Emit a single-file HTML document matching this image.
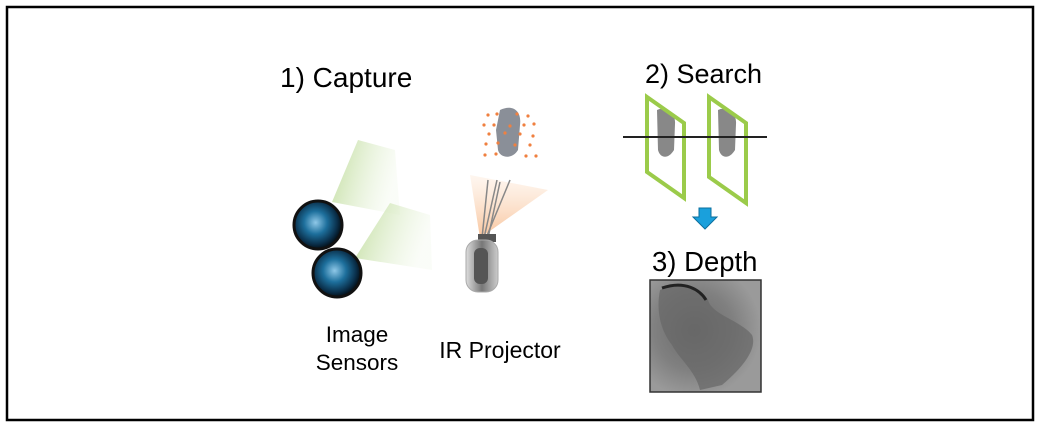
<!DOCTYPE html>
<html><head><meta charset="utf-8"><style>
html,body{margin:0;padding:0;background:#fff;}
svg{display:block;}
text{font-family:"Liberation Sans",sans-serif;fill:#000;}
</style></head><body>
<svg width="1041" height="427" viewBox="0 0 1041 427" xmlns="http://www.w3.org/2000/svg">
<defs>
<linearGradient id="gc" x1="0" y1="0" x2="1" y2="0.3">
<stop offset="0" stop-color="#b8d890" stop-opacity="0.9"/>
<stop offset="1" stop-color="#e8f3dc" stop-opacity="0.2"/>
</linearGradient>
<linearGradient id="oc" x1="0" y1="1" x2="0" y2="0">
<stop offset="0" stop-color="#f4a060" stop-opacity="0.9"/>
<stop offset="1" stop-color="#fbd5b5" stop-opacity="0.3"/>
</linearGradient>
<radialGradient id="lens" cx="0.45" cy="0.45" r="0.6">
<stop offset="0" stop-color="#8fc8e8"/>
<stop offset="0.4" stop-color="#1d6f9c"/>
<stop offset="0.75" stop-color="#0a2f4a"/>
<stop offset="1" stop-color="#000"/>
</radialGradient>
<linearGradient id="cyl" x1="0" y1="0" x2="1" y2="0">
<stop offset="0" stop-color="#ddd"/><stop offset="0.5" stop-color="#777"/><stop offset="1" stop-color="#ccc"/>
</linearGradient>
<radialGradient id="dep" cx="0.4" cy="0.45" r="0.6">
<stop offset="0" stop-color="#6a6a6a"/><stop offset="0.6" stop-color="#808080"/><stop offset="1" stop-color="#9a9a9a"/>
</radialGradient>
</defs>
<rect x="7" y="7" width="1026" height="413" fill="#fff" stroke="#000" stroke-width="2.5"/>

<text x="280" y="87" font-size="28">1) Capture</text>
<text x="645" y="83" font-size="27">2) Search</text>
<text x="652" y="271" font-size="27.5">3) Depth</text>
<text x="357" y="342" font-size="22.5" text-anchor="middle">Image</text>
<text x="357" y="370" font-size="22.5" text-anchor="middle">Sensors</text>
<text x="500" y="358" font-size="23" text-anchor="middle">IR Projector</text>

<polygon points="332,202 358,140 395,150 400,215" fill="url(#gc)"/>
<polygon points="355,258 390,203 430,215 432,270" fill="url(#gc)"/>
<circle cx="318" cy="225" r="24" fill="url(#lens)" stroke="#111" stroke-width="3"/>
<circle cx="337" cy="273" r="24" fill="url(#lens)" stroke="#111" stroke-width="3"/>

<polygon points="480,238 470,175 548,190" fill="url(#oc)" opacity="0.7"/>
<g stroke="#888" stroke-width="1.5">
<line x1="482" y1="238" x2="488" y2="180"/><line x1="484" y1="238" x2="497" y2="180"/>
<line x1="486" y1="238" x2="510" y2="180"/><line x1="488" y1="238" x2="500" y2="182"/>
</g>
<rect x="478" y="234" width="18" height="8" fill="#555"/>
<rect x="466" y="240" width="32" height="52" rx="12" fill="url(#cyl)" stroke="#aaa"/>
<rect x="474" y="248" width="14" height="36" rx="6" fill="#555"/>
<path d="M500,110 C512,104 522,110 520,125 L518,150 C512,160 500,158 498,150 L496,130 Z" fill="#8a8f98"/>
<g fill="#f08040">
<circle cx="488" cy="115" r="1.6"/><circle cx="497" cy="114" r="1.6"/><circle cx="517" cy="114" r="1.6"/><circle cx="528" cy="116" r="1.6"/>
<circle cx="484" cy="125" r="1.6"/><circle cx="494" cy="125" r="1.6"/><circle cx="510" cy="126" r="1.6"/><circle cx="524" cy="125" r="1.6"/><circle cx="534" cy="124" r="1.6"/>
<circle cx="489" cy="134" r="1.6"/><circle cx="505" cy="133" r="1.6"/><circle cx="520" cy="134" r="1.6"/><circle cx="533" cy="136" r="1.6"/>
<circle cx="486" cy="144" r="1.6"/><circle cx="498" cy="143" r="1.6"/><circle cx="515" cy="145" r="1.6"/><circle cx="530" cy="145" r="1.6"/>
<circle cx="485" cy="155" r="1.6"/><circle cx="496" cy="154" r="1.6"/><circle cx="526" cy="156" r="1.6"/><circle cx="536" cy="156" r="1.6"/>
</g>

<path d="M657,110 C665,106 676,112 675,124 L674,150 C668,160 660,158 658,150 Z" fill="#888"/>
<path d="M718,110 C726,106 737,112 736,124 L735,150 C729,160 721,158 719,150 Z" fill="#888"/>
<polygon points="647,97 684,123 684,198 647,172" fill="none" stroke="#9bcb4a" stroke-width="4"/>
<polygon points="709,97 746,123 746,203 709,177" fill="none" stroke="#9bcb4a" stroke-width="4"/>
<line x1="623" y1="137" x2="767" y2="137" stroke="#222" stroke-width="2"/>
<polygon points="699,208 711,208 711,217 717,217 705,229 693,217 699,217" fill="#1aa0dc" stroke="#0b6f9e" stroke-width="1"/>

<rect x="650" y="280" width="111" height="112" fill="url(#dep)" stroke="#333" stroke-width="1.5"/>
<path d="M660,290 C680,282 700,285 708,300 C712,315 740,320 752,335 C758,350 740,370 722,385 L700,390 C695,370 680,360 672,345 C660,330 656,310 660,290 Z" fill="#666" opacity="0.7"/>
<path d="M662,288 C685,280 700,290 706,300" fill="none" stroke="#222" stroke-width="3"/>
</svg>
</body></html>
